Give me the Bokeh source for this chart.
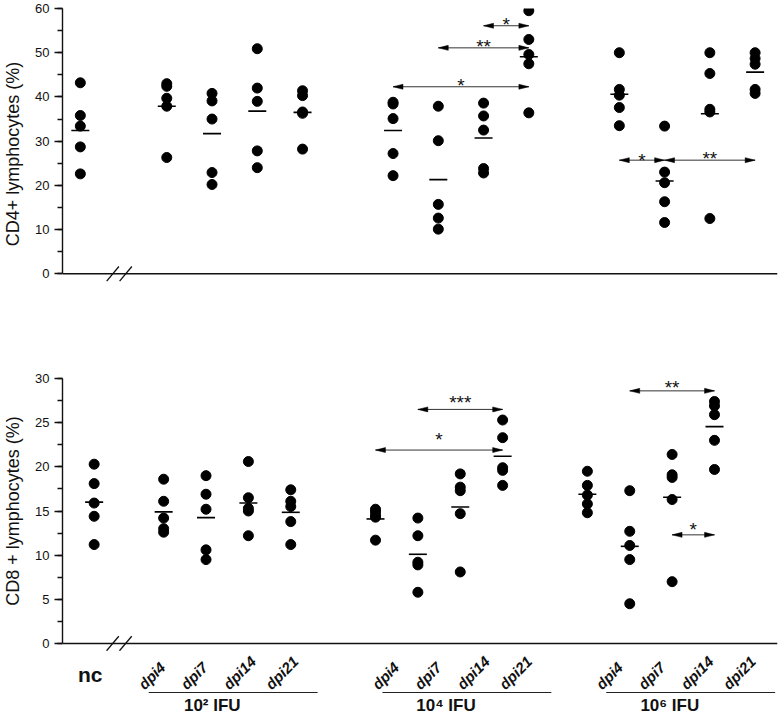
import math
from bokeh.plotting import figure
from bokeh.layouts import column
from bokeh.models import Range1d, SingleIntervalTicker
from bokeh.core.properties import value
from bokeh.embed import file_html
from bokeh.resources import INLINE

# ---------------- data ----------------
control_label = "nc"
timepoints = ["dpi4", "dpi7", "dpi14", "dpi21"]
dose_labels = ["10² IFU", "10⁴ IFU", "10⁶ IFU"]

cd4_nc = [43.2, 35.8, 33.4, 28.7, 22.6]
cd4_nc_mean = 32.4
cd4_1e2 = [[43.0, 42.4, 39.7, 37.9, 26.3], [40.8, 39.1, 35.0, 22.9, 20.2],
           [50.9, 42.0, 39.0, 27.8, 24.0], [41.4, 40.3, 36.6, 36.3, 28.2]]
cd4_1e2_mean = [37.9, 31.7, 36.8, 36.5]
cd4_1e4 = [[38.8, 38.4, 35.1, 27.2, 22.2], [37.9, 30.1, 15.7, 12.6, 10.1],
           [38.6, 35.7, 32.5, 23.8, 22.8], [59.5, 53.0, 49.6, 47.5, 36.4]]
cd4_1e4_mean = [32.4, 21.3, 30.7, 49.1]
cd4_1e6 = [[50.0, 41.7, 40.4, 37.6, 33.5], [33.4, 23.0, 20.6, 16.3, 11.6],
           [50.0, 45.3, 37.2, 36.6, 12.5], [50.0, 48.7, 47.4, 41.7, 40.8]]
cd4_1e6_mean = [40.6, 21.0, 36.2, 45.6]

cd8_nc = [20.3, 18.1, 15.9, 14.4, 11.2]
cd8_nc_mean = 16.0
cd8_1e2 = [[18.6, 16.1, 14.2, 13.0, 12.6], [19.0, 16.9, 15.2, 10.6, 9.5],
           [20.6, 16.5, 15.3, 15.0, 12.2], [17.4, 16.1, 15.5, 13.8, 11.2]]
cd8_1e2_mean = [14.9, 14.25, 15.9, 14.85]
cd8_1e4 = [[15.2, 14.9, 14.5, 14.3, 11.7], [14.2, 12.2, 9.2, 8.9, 5.8],
           [19.2, 17.7, 17.3, 14.7, 8.1], [25.3, 23.3, 19.9, 19.6, 17.9]]
cd8_1e4_mean = [14.1, 10.1, 15.45, 21.2]
cd8_1e6 = [[19.5, 17.9, 16.8, 15.8, 14.8], [17.3, 12.7, 11.1, 9.5, 4.5],
           [21.4, 19.1, 18.8, 16.3, 7.0], [27.4, 26.9, 25.9, 23.0, 19.7]]
cd8_1e6_mean = [16.9, 11.0, 16.55, 24.55]

# significance brackets (dose index, from timepoint, to timepoint)
cd4_sig_dose = [1, 1, 1, 2, 2]
cd4_sig_from = ["dpi14", "dpi7", "dpi4", "dpi4", "dpi7"]
cd4_sig_to = ["dpi21", "dpi21", "dpi21", "dpi7", "dpi21"]
cd4_sig_y = [56.1, 51.1, 42.3, 25.7, 25.7]
cd4_sig_text_y = [57.2, 52.4, 43.4, 26.6, 27.0]
cd4_sig_text = ["*", "**", "*", "*", "**"]

cd8_sig_dose = [1, 1, 2, 2]
cd8_sig_from = ["dpi7", "dpi4", "dpi7", "dpi14"]
cd8_sig_to = ["dpi21", "dpi21", "dpi21", "dpi21"]
cd8_sig_y = [26.5, 21.9, 28.6, 12.3]
cd8_sig_text_y = [27.7, 23.6, 29.45, 13.35]
cd8_sig_text = ["***", "*", "**", "*"]

# ---------------- layout ----------------
FIG_W = 778
FRAME_L = 58
FRAME_R = 1
FRAME_W = FIG_W - FRAME_L - FRAME_R
DOSE_START = [2, 7, 12]
BREAK_X = 0.95
FONT = "Liberation Sans"
INK = "#111111"

TOP = dict(height=291 + 8, border_top=8, ymax=60, ymax_px=0, zero_px=265.3,
           x_start=-0.304, xpu=45.51, nc_x=0.09, tick=10)
BOT = dict(height=281 + 71, border_top=71, ymax=30, ymax_px=8, zero_px=273,
           x_start=-0.387, xpu=42.61, nc_x=0.36, tick=5)
LABELS_H = 63          # strip under the lower panel
LABELS_TOP_PX = 8      # px between the lower x axis and the top of the strip


def pos(dose, tp):
    return DOSE_START[dose] + timepoints.index(tp)


def base_figure(height, x_start, xpu, y_start, y_end, border_top, with_axis):
    return figure(width=FIG_W, height=height,
                  x_range=Range1d(x_start, x_start + FRAME_W / xpu),
                  y_range=Range1d(y_start, y_end),
                  x_axis_location=None,
                  y_axis_location="left" if with_axis else None,
                  toolbar_location=None, output_backend="svg",
                  min_border_left=FRAME_L, min_border_right=FRAME_R,
                  min_border_top=border_top, min_border_bottom=0,
                  outline_line_color=None, background_fill_color="white",
                  border_fill_color="white")


def make_panel(cfg, nc_vals, nc_mean, dose_vals, dose_means,
               sig_dose, sig_from, sig_to, sig_y, sig_text_y, sig_text, ylabel):
    frame_h = cfg["height"] - cfg["border_top"]
    ypu = (cfg["zero_px"] - cfg["ymax_px"]) / cfg["ymax"]
    xpu = cfg["xpu"]
    y_end = cfg["ymax"] + cfg["ymax_px"] / ypu
    y_start = -(frame_h - cfg["zero_px"]) / ypu
    x_start = cfg["x_start"]
    x_end = x_start + FRAME_W / xpu

    p = base_figure(cfg["height"], x_start, xpu, y_start, y_end, cfg["border_top"], True)
    p.grid.visible = False

    ax = p.yaxis[0]
    ax.bounds = (0, cfg["ymax"])
    ax.ticker = SingleIntervalTicker(interval=cfg["tick"], num_minor_ticks=2)
    ax.major_tick_out = 8
    ax.major_tick_in = 0
    ax.minor_tick_out = 5
    ax.minor_tick_in = 0
    ax.axis_line_width = 1.4
    ax.major_tick_line_width = 1.3
    ax.minor_tick_line_width = 1.3
    ax.axis_line_color = INK
    ax.major_tick_line_color = INK
    ax.minor_tick_line_color = INK
    ax.major_label_text_font = FONT
    ax.major_label_text_font_size = "13px"
    ax.major_label_text_color = INK
    ax.major_label_standoff = 5
    ax.axis_label = ylabel
    ax.axis_label_text_font = FONT
    ax.axis_label_text_font_size = "18px"
    ax.axis_label_text_font_style = "normal"
    ax.axis_label_text_color = INK
    ax.axis_label_standoff = 9

    # x axis line and break marks
    p.segment(x0=[x_start], y0=[0], x1=[x_end], y1=[0], line_color=INK, line_width=1.4)
    d = 6.5 / xpu
    p.scatter(x=[BREAK_X - d, BREAK_X + d], y=[0, 0], marker="dash", size=19,
              angle=math.radians(50), line_color=INK, line_width=1.3)

    # points and means
    xs, ys = [], []
    for v in nc_vals:
        xs.append(cfg["nc_x"]); ys.append(v)
    mx, my = [cfg["nc_x"]], [nc_mean]
    for di, (vals, means) in enumerate(zip(dose_vals, dose_means)):
        for ti, tp in enumerate(timepoints):
            for v in vals[ti]:
                xs.append(pos(di, tp)); ys.append(v)
            mx.append(pos(di, tp)); my.append(means[ti])
    p.scatter(x=xs, y=ys, size=10, fill_color="black", line_color="black")
    p.scatter(x=mx, y=my, marker="dash", size=18, line_color="black", line_width=1.6)

    # significance brackets
    hl = 10 / xpu
    hw = 2.5 / ypu
    x0s, x1s, px, py, tx = [], [], [], [], []
    for dd, f, t, yv in zip(sig_dose, sig_from, sig_to, sig_y):
        xa, xb = pos(dd, f), pos(dd, t)
        x0s.append(xa); x1s.append(xb)
        px.append([xa, xa + hl, xa + hl]); py.append([yv, yv + hw, yv - hw])
        px.append([xb, xb - hl, xb - hl]); py.append([yv, yv + hw, yv - hw])
        tx.append((xa + xb) / 2)
    p.segment(x0=x0s, y0=sig_y, x1=x1s, y1=sig_y, line_color="#333333", line_width=1)
    p.patches(xs=px, ys=py, fill_color="black", line_color="black", line_width=0.5)
    p.text(x=tx, y=[v - 4 / ypu for v in sig_text_y], text=sig_text,
           text_align="center", text_baseline="middle",
           text_font=value(FONT), text_font_size="19px", text_color=INK)
    return p


def make_labels(cfg):
    xpu = cfg["xpu"]
    # y in "pixels below the lower x axis" (negative = lower)
    p = base_figure(LABELS_H, cfg["x_start"], xpu,
                    -(LABELS_TOP_PX + LABELS_H), -LABELS_TOP_PX, 0, False)
    p.grid.visible = False
    shift_px = [0, 22, 34]
    lx, ly, lt = [], [], []
    gx, gy, gt = [], [], []
    lx0, lx1 = [], []
    for di in range(len(dose_labels)):
        s = shift_px[di]
        ps = [pos(di, tp) for tp in timepoints]
        for xv, tp in zip(ps, timepoints):
            lx.append(xv + (s - 23) / xpu); ly.append(-43); lt.append(tp)
        gx.append(sum(ps) / len(ps) + (s - 15) / xpu); gy.append(-62)
        gt.append(dose_labels[di])
        lx0.append(ps[0] + (s - 15) / xpu); lx1.append(ps[-1] + (s + 27) / xpu)
    p.text(x=lx, y=ly, text=lt, angle=math.pi / 4, text_align="left",
           text_baseline="middle", text_font=value(FONT),
           text_font_style="bold italic", text_font_size="15px", text_color=INK)
    p.segment(x0=lx0, y0=[-49] * 3, x1=lx1, y1=[-49] * 3, line_color="#222222",
              line_width=1)
    p.text(x=gx, y=gy, text=gt, text_align="center", text_baseline="middle",
           text_font=value(FONT), text_font_style="bold", text_font_size="17px",
           text_color=INK)
    p.text(x=[cfg["nc_x"] - 4 / xpu], y=[-31], text=[control_label],
           text_align="center", text_baseline="middle", text_font=value(FONT),
           text_font_style="bold", text_font_size="21px", text_color=INK)
    return p


top = make_panel(TOP, cd4_nc, cd4_nc_mean, [cd4_1e2, cd4_1e4, cd4_1e6],
                 [cd4_1e2_mean, cd4_1e4_mean, cd4_1e6_mean],
                 cd4_sig_dose, cd4_sig_from, cd4_sig_to, cd4_sig_y, cd4_sig_text_y,
                 cd4_sig_text, "CD4+ lymphocytes (%)")
bottom = make_panel(BOT, cd8_nc, cd8_nc_mean, [cd8_1e2, cd8_1e4, cd8_1e6],
                    [cd8_1e2_mean, cd8_1e4_mean, cd8_1e6_mean],
                    cd8_sig_dose, cd8_sig_from, cd8_sig_to, cd8_sig_y, cd8_sig_text_y,
                    cd8_sig_text, "CD8 + lymphocytes (%)")
labels = make_labels(BOT)

layout = column(top, bottom, labels, spacing=0)
open("out.html", "w").write(file_html(layout, INLINE))
